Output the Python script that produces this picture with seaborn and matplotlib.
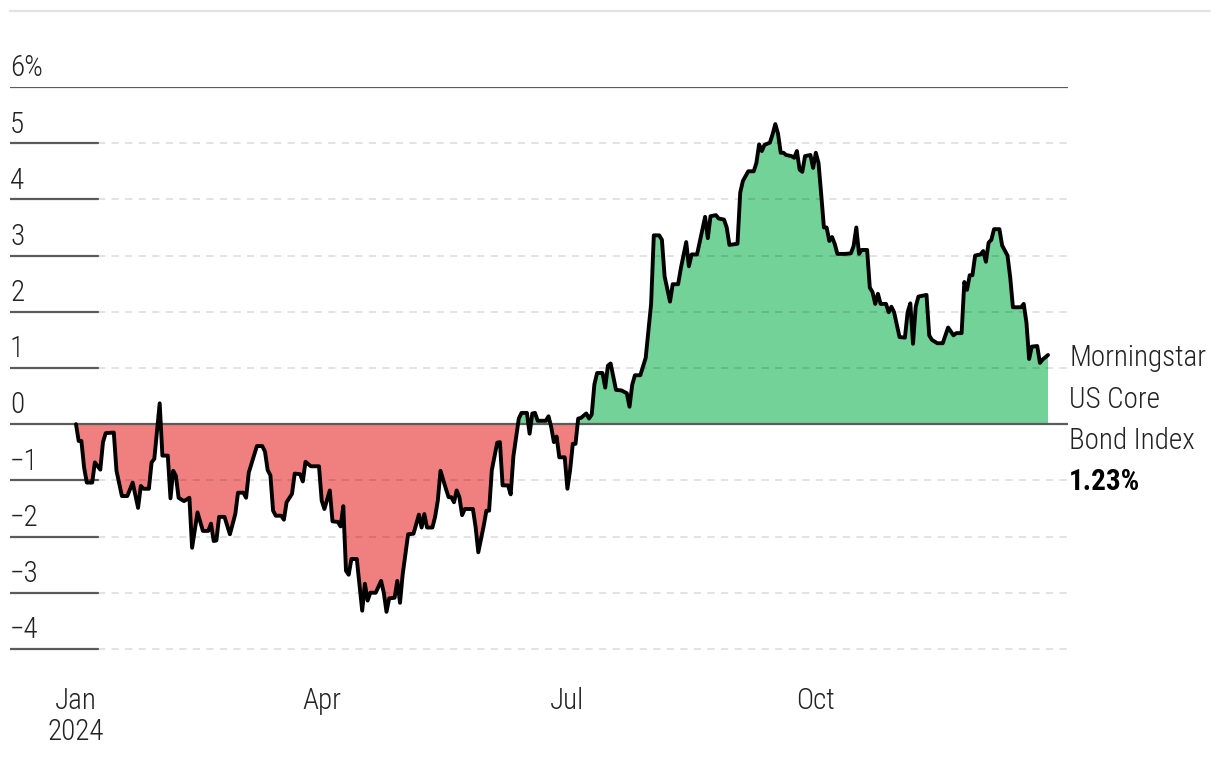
import numpy as np
import pandas as pd
import matplotlib
matplotlib.use("Agg")
import matplotlib.pyplot as plt
import matplotlib.transforms as mtransforms
import matplotlib.dates as mdates
from matplotlib import font_manager as fm
from matplotlib.lines import Line2D
import seaborn as sns

# ---------------- data ----------------
day_of_year = [
    0, 1, 2, 3, 4, 6, 7, 9, 10, 11, 14, 15, 17, 19, 21, 23, 24, 25, 27, 28, 29, 31, 32, 34, 35,
    36, 37, 38, 40, 42, 43, 45, 47, 49, 50, 51, 52, 53, 55, 57, 59, 60, 62, 63, 64, 67, 69, 70,
    71, 72, 73, 74, 76, 77, 78, 80, 81, 83, 84, 85, 87, 90, 91, 92, 94, 95, 97, 98, 99, 100,
    101, 102, 104, 106, 107, 108, 109, 111, 113, 114, 115, 116, 118, 119, 120, 121, 123, 125,
    126, 127, 128, 129, 130, 132, 133, 134, 135, 137, 138, 139, 140, 141, 142, 143, 144, 147,
    148, 149, 151, 152, 153, 154, 156, 157, 158, 160, 161, 162, 164, 165, 167, 168, 169, 170,
    171, 174, 175, 176, 177, 178, 179, 181, 182, 183, 184, 185, 186, 187, 189, 190, 191, 192,
    193, 195, 196, 197, 198, 200, 202, 204, 205, 206, 207, 209, 211, 212, 213, 214, 216, 217,
    218, 220, 221, 223, 224, 226, 227, 228, 230, 231, 233, 234, 235, 237, 238, 240, 241, 242,
    245, 246, 247, 249, 251, 252, 253, 254, 255, 257, 258, 259, 260, 261, 262, 263, 265, 266,
    267, 268, 269, 270, 272, 273, 274, 275, 276, 277, 278, 279, 280, 281, 282, 285, 287, 288,
    289, 290, 291, 293, 294, 295, 296, 297, 298, 300, 301, 302, 303, 305, 307, 308, 309, 310,
    311, 312, 315, 316, 317, 319, 321, 323, 325, 326, 328, 329, 330, 331, 332, 333, 335, 336,
    337, 338, 339, 340, 342, 343, 345, 346, 347, 350, 351, 352, 353, 354, 356, 357, 358, 360,
]
ytd_return = [
    0.00, -0.30, -0.30, -0.77, -1.04, -1.04, -0.68, -0.81, -0.32, -0.16, -0.15, -0.83, -1.28,
    -1.28, -1.04, -1.49, -1.10, -1.15, -1.15, -0.68, -0.62, 0.37, -0.56, -0.56, -1.32, -0.83,
    -0.92, -1.31, -1.37, -1.31, -2.20, -1.57, -1.90, -1.90, -1.77, -2.08, -2.07, -1.65, -1.65,
    -1.96, -1.60, -1.22, -1.22, -1.31, -0.86, -0.39, -0.39, -0.49, -0.82, -0.91, -1.54, -1.63,
    -1.63, -1.70, -1.39, -1.24, -0.88, -0.89, -1.02, -0.67, -0.75, -0.75, -1.36, -1.51, -1.18,
    -1.73, -1.74, -1.82, -1.46, -2.61, -2.68, -2.40, -2.40, -3.32, -2.84, -3.14, -3.00, -3.00,
    -2.79, -3.00, -3.34, -3.10, -3.09, -2.79, -3.18, -2.67, -1.96, -1.95, -1.78, -1.61, -1.84,
    -1.60, -1.84, -1.84, -1.65, -1.36, -0.83, -1.15, -1.30, -1.30, -1.39, -1.18, -1.30, -1.62,
    -1.51, -1.51, -1.83, -2.28, -1.81, -1.54, -1.54, -0.82, -0.33, -0.32, -1.09, -1.09, -1.25,
    -0.57, 0.10, 0.20, 0.20, -0.17, 0.19, 0.20, 0.06, 0.06, 0.14, -0.05, -0.32, -0.22, -0.59,
    -0.59, -1.15, -0.82, -0.35, -0.35, 0.10, 0.11, 0.19, 0.10, 0.17, 0.71, 0.91, 0.91, 0.65,
    1.04, 1.08, 0.61, 0.60, 0.55, 0.31, 0.70, 0.87, 0.87, 1.18, 1.67, 2.14, 3.36, 3.36, 3.28,
    2.63, 2.18, 2.49, 2.49, 2.77, 3.24, 2.81, 3.02, 3.02, 3.24, 3.69, 3.31, 3.70, 3.72, 3.66,
    3.64, 3.50, 3.19, 3.21, 4.12, 4.33, 4.50, 4.50, 4.65, 4.98, 4.86, 4.97, 5.01, 5.16, 5.34,
    5.17, 4.83, 4.83, 4.79, 4.77, 4.74, 4.86, 4.53, 4.49, 4.77, 4.79, 4.56, 4.83, 4.65, 4.09,
    3.50, 3.50, 3.26, 3.33, 3.21, 3.03, 3.03, 3.04, 3.17, 3.50, 3.03, 3.10, 3.10, 2.43, 2.35,
    2.14, 2.32, 2.14, 2.14, 1.99, 2.09, 1.99, 1.55, 1.54, 1.99, 2.15, 1.43, 2.09, 2.27, 2.30,
    1.58, 1.50, 1.44, 1.44, 1.72, 1.58, 1.62, 1.62, 2.53, 2.39, 2.65, 2.65, 3.00, 3.02, 3.08,
    2.89, 3.23, 3.28, 3.47, 3.47, 3.18, 3.00, 2.61, 2.08, 2.08, 2.14, 1.81, 1.16, 1.38, 1.39,
    1.09, 1.15, 1.23,
]
y_ticks = [6, 5, 4, 3, 2, 1, 0, -1, -2, -3, -4]
y_tick_labels = ["6%", "5", "4", "3", "2", "1", "0", "\u22121", "\u22122", "\u22123", "\u22124"]
x_tick_dates = ["2024-01-01", "2024-04-01", "2024-07-01", "2024-10-01"]
x_tick_labels = ["Jan\n2024", "Apr", "Jul", "Oct"]
series_label_lines = ["Morningstar", "US Core", "Bond Index"]
end_value_label = "1.23%"

# ---------------- style ----------------
sns.set_theme(style="white")
names = {f.name for f in fm.fontManager.ttflist}
stretch = "normal"
if "Roboto Condensed" in names:
    fam = "Roboto Condensed"
elif "Liberation Sans Narrow" in names:
    fam = "Liberation Sans Narrow"
else:
    fam = "DejaVu Sans"
    stretch = "condensed"
plt.rcParams["font.family"] = [fam, "DejaVu Sans"]
plt.rcParams["font.stretch"] = stretch

TEXT = "#222222"
DARK = "#5b5b5b"
RED = "#F08080"
GREEN = "#72D298"
FS = 21
WLIGHT = "light"

start = pd.Timestamp("2024-01-01")
df = pd.DataFrame({
    "date": start + pd.to_timedelta(day_of_year, unit="D"),
    "ret": ytd_return,
})

fig = plt.figure(figsize=(12.2, 7.68), dpi=100)
ax = fig.add_axes([10 / 1220, 1 - 677 / 768, 1058 / 1220, 590 / 768])

xnum = mdates.date2num(df["date"])
y = np.asarray(df["ret"], dtype=float)

ax.fill_between(xnum, y, 0, where=y >= 0, interpolate=True, color=GREEN, lw=0, zorder=1)
ax.fill_between(xnum, y, 0, where=y <= 0, interpolate=True, color=RED, lw=0, zorder=1)

sns.lineplot(data=df, x="date", y="ret", ax=ax, color="black", lw=2.8, zorder=4)

# grid lines
seg = 88 / 1058
for v in y_ticks:
    if v in (6, 0):
        ax.axhline(v, color=DARK, lw=1.6, zorder=3)
    else:
        ax.axhline(v, xmin=0, xmax=seg, color=DARK, lw=1.6, zorder=3)
        ax.axhline(v, xmin=seg, xmax=1, color="black", alpha=0.12, lw=1.3,
                   ls=(0, (4, 3.5)), zorder=2)

ax.set_ylim(-4.5, 6.0)
ax.set_xlim(start + pd.Timedelta(days=-24.44), start + pd.Timedelta(days=367.4))

# y labels above lines
blend = mtransforms.blended_transform_factory(ax.transAxes, ax.transData)
for v, lab in zip(y_ticks, y_tick_labels):
    ax.text(0.0, v + 0.19, lab, transform=blend, ha="left", va="baseline",
            fontsize=FS, color=TEXT, fontweight=WLIGHT)
ax.set_yticks([])

ax.set_xticks(pd.to_datetime(x_tick_dates))
ax.set_xticklabels(x_tick_labels, fontsize=FS, color=TEXT, linespacing=1.15,
                   fontweight=WLIGHT)
ax.tick_params(axis="x", length=0, pad=7)
ax.set_xlabel("")
ax.set_ylabel("")
for s in ax.spines.values():
    s.set_visible(False)

# end label
last = ytd_return[-1]
offsets = [-11, -52.5, -94]
for txt, off in zip(series_label_lines, offsets):
    ax.annotate(txt, xy=(1.0, last), xycoords=blend, xytext=(1, off),
                textcoords="offset pixels", ha="left", va="baseline",
                fontsize=FS, color=TEXT, fontweight=WLIGHT, annotation_clip=False)
ax.annotate(end_value_label, xy=(1.0, last), xycoords=blend, xytext=(1, -135),
            textcoords="offset pixels", ha="left", va="baseline",
            fontsize=FS, color="black", fontweight="bold", annotation_clip=False)

# thin top rule
fig.add_artist(Line2D([10 / 1220, 1210 / 1220], [1 - 11 / 768] * 2,
                      transform=fig.transFigure, color="#e3e3e3", lw=1.6))

fig.savefig("out.png", dpi=100)
